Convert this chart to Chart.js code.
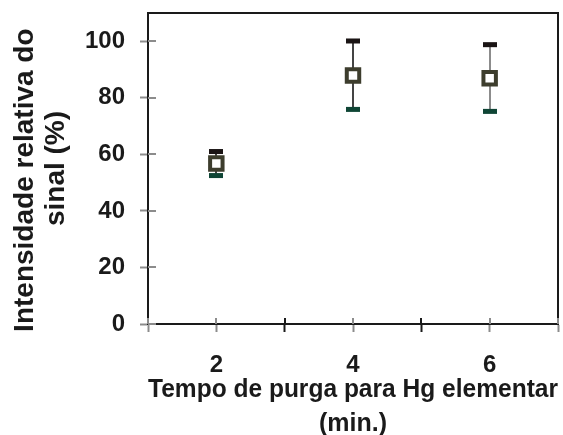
<!DOCTYPE html>
<html>
<head>
<meta charset="utf-8">
<script src="https://cdn.jsdelivr.net/npm/chart.js@4.4.0/dist/chart.umd.min.js"></script>
<style>
  html, body { margin: 0; padding: 0; background: #fff; }
  #wrap { width: 563px; height: 435px; }
</style>
</head>
<body>
<div id="wrap"><canvas id="chart"></canvas></div>
<script>
// data
const purgeTimes = [2, 4, 6];
const meanSignal = [56.8, 87.9, 86.9];
const upperSignal = [61.0, 100.1, 98.8];
const lowerSignal = [52.5, 75.9, 75.2];
const xLabelTicks = [2, 4, 6];
const yTickValues = [0, 20, 40, 60, 80, 100];

const barLineColors = ['#444444', '#444444', '#8c8c8c'];

// error bars, drawn under the markers
const errorBars = {
    id: 'errorBars',
    beforeDatasetsDraw(chart) {
        const ctx = chart.ctx;
        const xs = chart.scales.x, ys = chart.scales.y;
        ctx.save();
        purgeTimes.forEach((t, i) => {
            const px = Math.round(xs.getPixelForValue(t));
            const top = ys.getPixelForValue(upperSignal[i]);
            const bot = ys.getPixelForValue(lowerSignal[i]);
            ctx.strokeStyle = barLineColors[i];
            ctx.lineWidth = 2;
            ctx.beginPath();
            ctx.moveTo(px, top);
            ctx.lineTo(px, bot);
            ctx.stroke();
            ctx.fillStyle = '#1a1414';
            ctx.fillRect(px - 7, top - 2.5, 14, 5);
            ctx.fillStyle = '#0f4535';
            ctx.fillRect(px - 7, bot - 2.5, 14, 5);
        });
        ctx.restore();
    }
};

// box around plot + tick stubs pointing inside
const frame = {
    id: 'frame',
    afterDraw(chart) {
        const ctx = chart.ctx;
        const a = chart.chartArea;
        const xs = chart.scales.x, ys = chart.scales.y;
        ctx.save();
        ctx.lineWidth = 2;
        ctx.strokeStyle = '#1a1a1a';
        ctx.strokeRect(a.left, a.top, a.right - a.left, a.bottom - a.top);
        xs.ticks.forEach(tk => {
            const px = Math.round(xs.getPixelForValue(tk.value));
            ctx.strokeStyle = (tk.value === 3 || tk.value === 5) ? '#1a1a1a' : '#8c8c8c';
            ctx.beginPath();
            ctx.moveTo(px, a.bottom);
            ctx.lineTo(px, a.bottom - 6);
            ctx.stroke();
        });
        ys.ticks.forEach(tk => {
            const py = Math.round(ys.getPixelForValue(tk.value));
            ctx.strokeStyle = '#8c8c8c';
            ctx.beginPath();
            ctx.moveTo(a.left, py);
            ctx.lineTo(a.left + 8, py);
            ctx.stroke();
        });
        ctx.restore();
    }
};

const ctx = document.getElementById('chart').getContext('2d');
new Chart(ctx, {
    type: 'scatter',
    data: {
        datasets: [{
            data: purgeTimes.map((t, i) => ({ x: t, y: meanSignal[i] })),
            pointStyle: 'rect',
            pointRadius: 8.8,
            pointBorderWidth: 4,
            pointBorderColor: '#3d3d2d',
            pointBackgroundColor: '#ffffff',
            pointHoverRadius: 8.8
        }]
    },
    options: {
        responsive: true,
        maintainAspectRatio: false,
        animation: false,
        events: [],
        layout: { autoPadding: false, padding: { top: 13, right: 5, left: 0, bottom: 0 } },
        plugins: {
            legend: { display: false },
            tooltip: { enabled: false }
        },
        scales: {
            x: {
                type: 'linear',
                min: 1,
                max: 7,
                afterFit: s => { s.height = 111; s.paddingLeft = 0; s.paddingRight = 0; },
                ticks: {
                    stepSize: 1,
                    padding: 19,
                    color: '#1a1a1a',
                    font: { family: 'Liberation Sans, Arial', size: 24, weight: 'bold' },
                    callback: v => xLabelTicks.includes(v) ? String(v) : ''
                },
                grid: {
                    drawOnChartArea: false,
                    tickLength: 8,
                    tickWidth: 2,
                    tickColor: c => (c.tick && (c.tick.value === 3 || c.tick.value === 5)) ? '#1a1a1a' : '#8c8c8c'
                },
                border: { color: '#1a1a1a', width: 2 },
                title: {
                    display: true,
                    text: ['Tempo de purga para Hg elementar', '(min.)'],
                    color: '#1a1a1a',
                    font: { family: 'Liberation Sans, Arial', size: 25, weight: 'bold', lineHeight: 1.36 },
                    padding: { top: 0, bottom: -6 }
                }
            },
            y: {
                min: 0,
                max: 110,
                afterFit: s => { s.width = 148; s.paddingTop = 0; s.paddingBottom = 0; },
                afterBuildTicks: s => { s.ticks = yTickValues.map(v => ({ value: v })); },
                ticks: {
                    padding: 15,
                    color: '#1a1a1a',
                    font: { family: 'Liberation Sans, Arial', size: 24, weight: 'bold' }
                },
                grid: {
                    drawOnChartArea: false,
                    tickLength: 8,
                    tickWidth: 2,
                    tickColor: '#8c8c8c'
                },
                border: { color: '#1a1a1a', width: 2 },
                title: {
                    display: true,
                    // trailing spaces nudge the first line down like in the original
                    text: ['Intensidade relativa do   ', 'sinal (%)'],
                    color: '#1a1a1a',
                    font: { family: 'Liberation Sans, Arial', size: 28, weight: 'bold', lineHeight: 1.1 },
                    padding: { top: 10, bottom: 0 }
                }
            }
        }
    },
    plugins: [errorBars, frame]
});
</script>
</body>
</html>
